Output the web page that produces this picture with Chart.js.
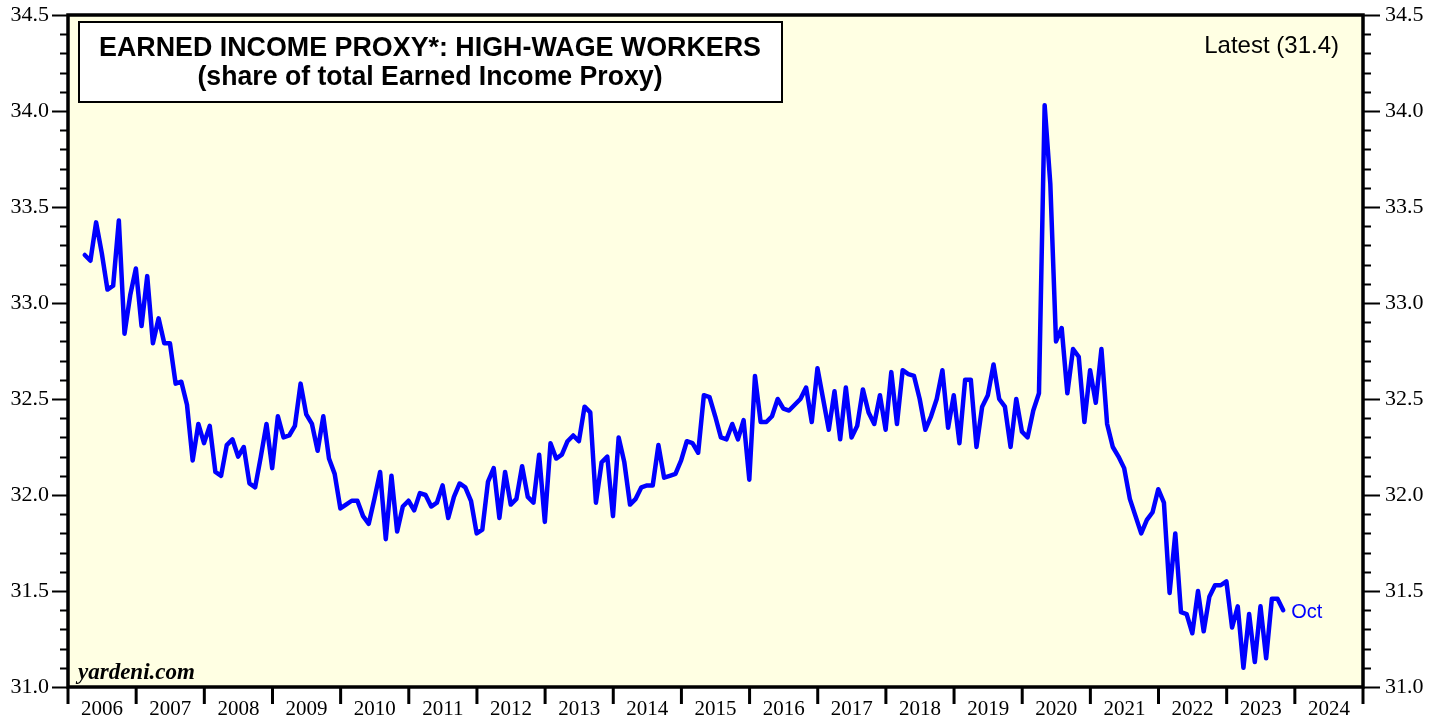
<!DOCTYPE html>
<html>
<head>
<meta charset="utf-8">
<script src="https://cdn.jsdelivr.net/npm/chart.js@4.4.1/dist/chart.umd.min.js"></script>
<style>
    body { margin: 0; background: #fff; }
    #wrap { width: 1441px; height: 719px; }
</style>
</head>
<body>
<div id="wrap"><canvas id="chart" width="1441" height="719"></canvas></div>
<script>
// Earned income proxy, high-wage workers share (%), monthly, Mar 2006 .. Oct 2023
const FIRST_YEAR = 2006;
const FIRST_MONTH = 2; // March (0-based)
const LAST_LABEL = "Oct";

const v2006 = [33.25, 33.22, 33.42, 33.26, 33.07, 33.09, 33.43, 32.84, 33.04, 33.18];
const v2007 = [32.88, 33.14, 32.79, 32.92, 32.79, 32.79, 32.58, 32.59, 32.47, 32.18, 32.37, 32.27];
const v2008 = [32.36, 32.12, 32.10, 32.26, 32.29, 32.20, 32.25, 32.06, 32.04, 32.20, 32.37, 32.14];
const v2009 = [32.41, 32.30, 32.31, 32.36, 32.58, 32.42, 32.37, 32.23, 32.41, 32.19, 32.11, 31.93];
const v2010 = [31.95, 31.97, 31.97, 31.89, 31.85, 31.98, 32.12, 31.77, 32.10, 31.81, 31.94, 31.97];
const v2011 = [31.92, 32.01, 32.00, 31.94, 31.96, 32.05, 31.88, 31.99, 32.06, 32.04, 31.97, 31.80];
const v2012 = [31.82, 32.07, 32.14, 31.88, 32.12, 31.95, 31.98, 32.15, 31.99, 31.96, 32.21, 31.86];
const v2013 = [32.27, 32.19, 32.21, 32.28, 32.31, 32.28, 32.46, 32.43, 31.96, 32.17, 32.20, 31.89];
const v2014 = [32.30, 32.17, 31.95, 31.98, 32.04, 32.05, 32.05, 32.26, 32.09, 32.10, 32.11, 32.18];
const v2015 = [32.28, 32.27, 32.22, 32.52, 32.51, 32.41, 32.30, 32.29, 32.37, 32.29, 32.39, 32.08];
const v2016 = [32.62, 32.38, 32.38, 32.41, 32.50, 32.45, 32.44, 32.47, 32.50, 32.56, 32.38, 32.66];
const v2017 = [32.50, 32.34, 32.54, 32.29, 32.56, 32.30, 32.36, 32.55, 32.43, 32.37, 32.52, 32.34];
const v2018 = [32.64, 32.37, 32.65, 32.63, 32.62, 32.50, 32.34, 32.41, 32.50, 32.65, 32.35, 32.52];
const v2019 = [32.27, 32.60, 32.60, 32.25, 32.46, 32.52, 32.68, 32.50, 32.46, 32.25, 32.50, 32.33];
const v2020 = [32.30, 32.44, 32.53, 34.03, 33.62, 32.80, 32.87, 32.53, 32.76, 32.72, 32.38, 32.65];
const v2021 = [32.48, 32.76, 32.37, 32.25, 32.20, 32.14, 31.98, 31.89, 31.80, 31.87, 31.91, 32.03];
const v2022 = [31.96, 31.49, 31.80, 31.39, 31.38, 31.28, 31.50, 31.29, 31.47, 31.53, 31.53, 31.55];
const v2023 = [31.31, 31.42, 31.10, 31.38, 31.13, 31.42, 31.15, 31.46, 31.46, 31.40];

const years = [2006, 2007, 2008, 2009, 2010, 2011, 2012, 2013, 2014, 2015,
               2016, 2017, 2018, 2019, 2020, 2021, 2022, 2023, 2024];
const yTickLabels = ["31.0", "31.5", "32.0", "32.5", "33.0", "33.5", "34.0", "34.5"];

const TITLE_1 = "EARNED INCOME PROXY*: HIGH-WAGE WORKERS";
const TITLE_2 = "(share of total Earned Income Proxy)";
const LATEST = "Latest (31.4)";
const SOURCE = "yardeni.com";

const BG_PLOT = "#FFFFE3";
const LINE_BLUE = "#0000FF";
const SERIF = "'Liberation Serif', 'Times New Roman', serif";
const SANS = "'Liberation Sans', Arial, sans-serif";

// build {x, y} points; x is a fractional year, plotted near month end
const allValues = [].concat(v2006, v2007, v2008, v2009, v2010, v2011, v2012, v2013, v2014,
    v2015, v2016, v2017, v2018, v2019, v2020, v2021, v2022, v2023);
const points = allValues.map((v, i) => {
    const m = FIRST_MONTH + i;
    return { x: FIRST_YEAR + (m + 0.95) / 12, y: v };
});

function isMajor(v) {
    return Math.abs(v * 2 - Math.round(v * 2)) < 1e-6;
}

// draw text squeezed/stretched horizontally to a given width
function fitText(ctx, text, cx, cy, width, font) {
    ctx.save();
    ctx.font = font;
    const w = ctx.measureText(text).width;
    ctx.translate(cx, cy);
    ctx.scale(width / w, 1);
    ctx.textAlign = "center";
    ctx.textBaseline = "middle";
    ctx.fillText(text, 0, 0);
    ctx.restore();
}

// --- Plugin: plot background, frame, tick marks, annotations ---
const decorations = {
    id: "decorations",
    beforeDatasetsDraw(chart) {
        const { ctx, chartArea: a } = chart;
        ctx.save();
        ctx.fillStyle = BG_PLOT;
        ctx.fillRect(a.left, a.top, a.right - a.left, a.bottom - a.top);

        // title box
        ctx.fillStyle = "#fff";
        ctx.fillRect(79, 22, 703, 80);
        ctx.strokeStyle = "#000";
        ctx.lineWidth = 2;
        ctx.strokeRect(79, 22, 703, 80);
        ctx.fillStyle = "#000";
        fitText(ctx, TITLE_1, 430, 49, 662, "bold 27px " + SANS);
        fitText(ctx, TITLE_2, 430, 78, 465, "bold 27px " + SANS);

        ctx.textBaseline = "middle";
        ctx.font = "24px " + SANS;
        ctx.textAlign = "right";
        ctx.fillText(LATEST, 1339, 46);

        ctx.font = "italic bold 23px " + SERIF;
        ctx.textAlign = "left";
        ctx.fillText(SOURCE, 78, 673);
        ctx.restore();
    },
    afterDraw(chart) {
        const { ctx, chartArea: a, scales } = chart;
        ctx.save();
        ctx.strokeStyle = "#000";

        // y tick marks, both sides
        ctx.lineWidth = 2;
        scales.y.ticks.forEach(t => {
            const py = Math.round(scales.y.getPixelForValue(t.value)) + 0.5;
            const major = isMajor(t.value);
            ctx.beginPath();
            ctx.moveTo(a.left, py);
            ctx.lineTo(a.left - (major ? 16 : 8), py);
            ctx.moveTo(a.right, py);
            ctx.lineTo(a.right + (major ? 17 : 8), py);
            ctx.stroke();
        });

        // year boundary ticks
        ctx.lineWidth = 3;
        for (let yr = years[0]; yr <= years[years.length - 1] + 1; yr++) {
            const px = scales.x.getPixelForValue(yr);
            ctx.beginPath();
            ctx.moveTo(px, a.bottom);
            ctx.lineTo(px, a.bottom + 17);
            ctx.stroke();
        }

        // frame
        ctx.lineWidth = 3.5;
        ctx.strokeRect(a.left, a.top, a.right - a.left, a.bottom - a.top);

        // last-point label
        const last = points[points.length - 1];
        ctx.fillStyle = LINE_BLUE;
        ctx.font = "20px " + SANS;
        ctx.textAlign = "left";
        ctx.textBaseline = "middle";
        ctx.fillText(LAST_LABEL,
            scales.x.getPixelForValue(last.x) + 8,
            scales.y.getPixelForValue(last.y) + 2);
        ctx.restore();
    },
};

const yTicks = {
    stepSize: 0.1,
    autoSkip: false,
    color: "#000",
    font: { size: 22, family: SERIF },
    callback: v => {
        if (!isMajor(v)) return "";
        const s = v.toFixed(1);
        return yTickLabels.includes(s) ? s : "";
    },
};

function fixY(width) {
    return s => {
        s.width = width;
        s.paddingTop = 0;
        s.paddingBottom = 0;
    };
}

new Chart(document.getElementById("chart"), {
    type: "line",
    data: {
        datasets: [{
            data: points,
            borderColor: LINE_BLUE,
            borderWidth: 4.5,
            pointRadius: 0,
            tension: 0,
            borderJoinStyle: "round",
            borderCapStyle: "round",
        }],
    },
    options: {
        responsive: false,
        animation: false,
        layout: { padding: { top: 15, left: 0, right: 0, bottom: 0 } },
        plugins: { legend: { display: false }, tooltip: { enabled: false } },
        scales: {
            x: {
                type: "linear",
                min: years[0],
                max: years[years.length - 1] + 1,
                grid: { display: false, drawTicks: false },
                border: { display: false },
                afterBuildTicks: s => { s.ticks = years.map(y => ({ value: y + 0.5 })); },
                afterFit: s => { s.height = 32; s.paddingLeft = 0; s.paddingRight = 0; },
                ticks: {
                    autoSkip: false,
                    maxRotation: 0,
                    padding: 10,
                    color: "#000",
                    font: { size: 21, family: SERIF },
                    callback: v => String(Math.floor(v)),
                },
            },
            y: {
                position: "left",
                min: 31, max: 34.5,
                grid: { display: false, drawTicks: false },
                border: { display: false },
                afterFit: fixY(68),
                ticks: Object.assign({ padding: 19 }, yTicks),
            },
            y2: {
                position: "right",
                min: 31, max: 34.5,
                grid: { display: false, drawTicks: false },
                border: { display: false },
                afterFit: fixY(78),
                ticks: Object.assign({ padding: 22 }, yTicks),
            },
        },
    },
    plugins: [decorations],
});
</script>
</body>
</html>
